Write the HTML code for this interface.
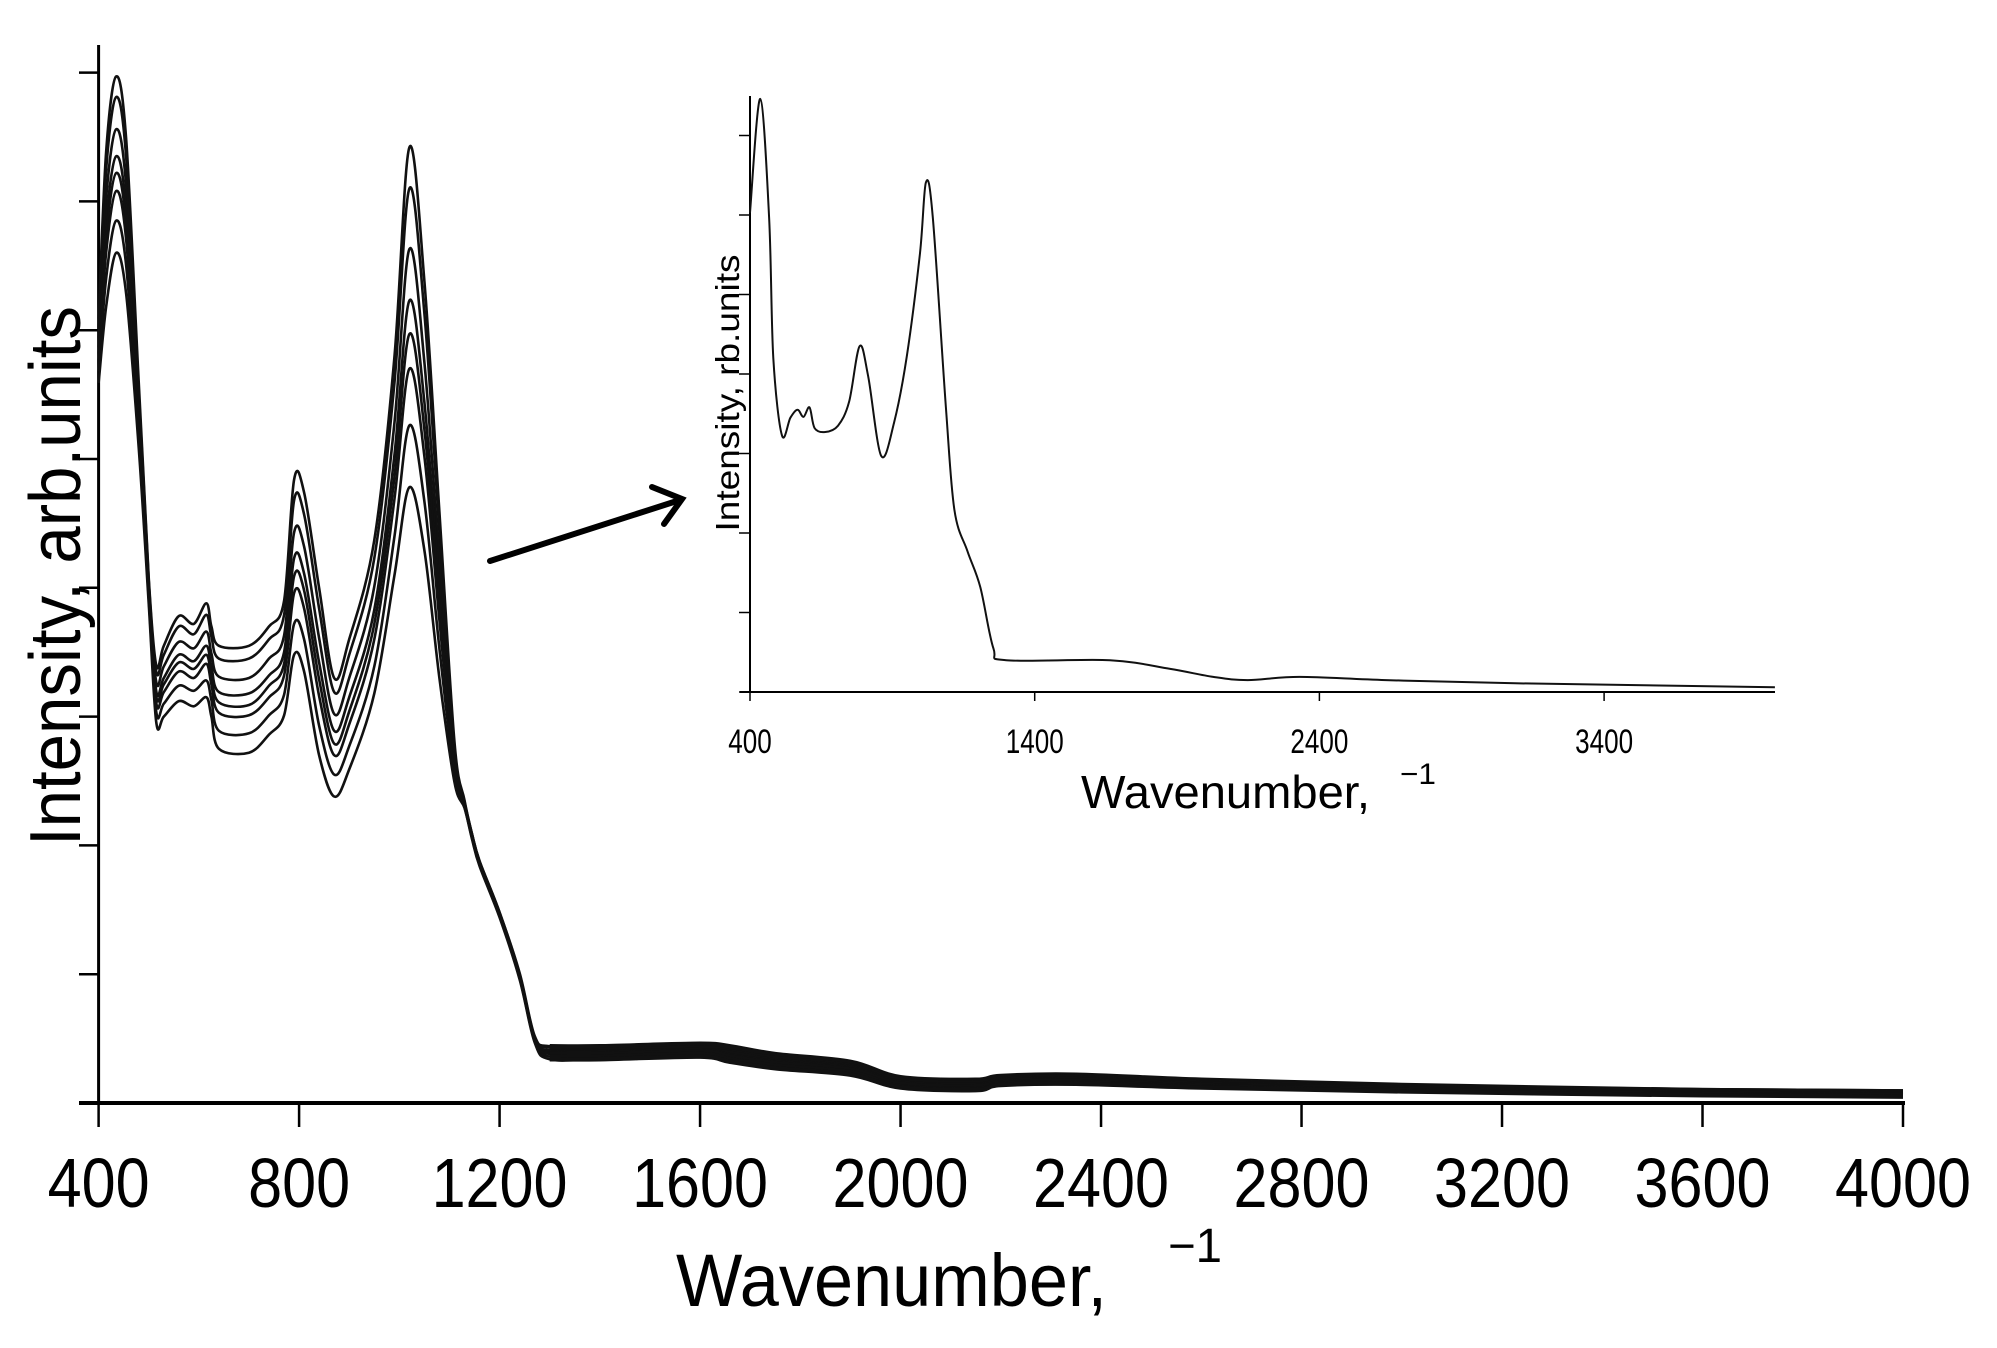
<!DOCTYPE html>
<html><head><meta charset="utf-8"><style>
html,body{margin:0;padding:0;background:#fff;}
svg{display:block;}
text{font-family:"Liberation Sans",Arial,sans-serif;fill:#000;}
</style></head><body>
<svg id="chart" width="1997" height="1348" viewBox="0 0 1997 1348" xmlns="http://www.w3.org/2000/svg">
<g id="main"></g>
<g id="inset"></g>
<g stroke="#000" stroke-width="6" fill="none" stroke-linecap="round">
<line x1="490" y1="561" x2="680" y2="500"/>
<polyline points="652,487 682,499 664,524"/>
</g>
</svg>
<script>
const wn = [400,415,435,455,480,500,515,530,560,590,615,625,640,700,740,770,790,810,840,870,900,950,990,1020,1050,1080,1110,1130,1145,1160,1200,1240,1270,1300,1400,1600,1660,1750,1900,2000,2150,2200,2350,2600,3000,3600,4000];
const s1 = [6.09,7.38,7.97,7.48,5.60,4.08,3.40,3.55,3.78,3.72,3.88,3.70,3.55,3.55,3.70,3.90,4.84,4.74,4.00,3.30,3.60,4.37,5.78,7.42,6.38,4.59,2.80,2.35,2.09,1.88,1.48,1.01,0.52,0.44,0.44,0.46,0.44,0.38,0.32,0.20,0.18,0.21,0.22,0.18,0.14,0.10,0.09];
const s2 = [6.03,7.24,7.81,7.34,5.54,4.06,3.35,3.48,3.70,3.64,3.79,3.62,3.45,3.45,3.60,3.79,4.68,4.57,3.84,3.19,3.48,4.23,5.58,7.10,6.13,4.44,2.76,2.34,2.09,1.88,1.48,1.00,0.51,0.43,0.43,0.45,0.43,0.37,0.31,0.19,0.17,0.20,0.21,0.17,0.13,0.10,0.09];
const s3 = [5.94,7.02,7.56,7.12,5.45,4.02,3.27,3.39,3.58,3.53,3.66,3.49,3.31,3.30,3.45,3.63,4.43,4.32,3.61,3.02,3.30,4.01,5.27,6.63,5.75,4.20,2.71,2.33,2.08,1.87,1.47,0.99,0.50,0.41,0.41,0.43,0.40,0.35,0.29,0.18,0.16,0.19,0.20,0.16,0.13,0.09,0.08];
const s4 = [5.87,6.84,7.35,6.94,5.37,3.99,3.20,3.30,3.48,3.43,3.55,3.39,3.19,3.18,3.32,3.50,4.23,4.11,3.42,2.89,3.15,3.83,5.02,6.23,5.44,4.01,2.66,2.32,2.07,1.86,1.46,0.99,0.50,0.40,0.40,0.41,0.39,0.33,0.28,0.16,0.14,0.18,0.19,0.15,0.12,0.08,0.07];
const s5 = [5.82,6.72,7.22,6.82,5.32,3.97,3.16,3.25,3.42,3.37,3.48,3.32,3.11,3.09,3.24,3.41,4.09,3.98,3.29,2.79,3.04,3.72,4.85,5.97,5.23,3.88,2.63,2.32,2.07,1.86,1.46,0.98,0.49,0.39,0.39,0.41,0.37,0.32,0.27,0.16,0.14,0.17,0.18,0.15,0.11,0.08,0.07];
const s6 = [5.77,6.60,7.08,6.70,5.27,3.95,3.11,3.19,3.35,3.30,3.41,3.25,3.03,3.01,3.15,3.32,3.96,3.84,3.16,2.70,2.94,3.60,4.68,5.70,5.02,3.75,2.60,2.31,2.06,1.85,1.45,0.98,0.49,0.38,0.38,0.40,0.36,0.31,0.26,0.15,0.13,0.16,0.17,0.14,0.11,0.07,0.06];
const s7 = [5.68,6.40,6.85,6.50,5.18,3.92,3.04,3.10,3.24,3.20,3.28,3.13,2.89,2.87,3.01,3.17,3.72,3.60,2.93,2.55,2.77,3.39,4.39,5.26,4.67,3.53,2.55,2.30,2.06,1.85,1.45,0.97,0.48,0.36,0.36,0.38,0.34,0.29,0.24,0.13,0.11,0.15,0.16,0.13,0.10,0.07,0.06];
const s8 = [5.59,6.18,6.60,6.28,5.09,3.88,2.96,3.00,3.12,3.08,3.15,3.00,2.75,2.72,2.86,3.01,3.48,3.35,2.70,2.38,2.59,3.18,4.09,4.78,4.29,3.30,2.49,2.29,2.05,1.84,1.44,0.96,0.47,0.34,0.34,0.36,0.32,0.27,0.22,0.12,0.10,0.14,0.15,0.12,0.09,0.06,0.05];
const xTicks = [400,800,1200,1600,2000,2400,2800,3200,3600,4000];
const yTicks = [0,1,2,3,4,5,6,7,8];
const insetWn = [400,436,467,482,512,542,567,588,609,627,664,709,748,785,815,861,906,951,997,1018,1042,1088,1118,1164,1209,1255,1300,1664,1876,2027,2148,2330,2633,3088,4000];
const insetVal = [6.03,7.46,5.97,4.20,3.23,3.45,3.55,3.46,3.58,3.32,3.27,3.35,3.65,4.35,3.97,2.97,3.39,4.23,5.52,6.41,5.97,3.58,2.29,1.77,1.32,0.55,0.40,0.40,0.29,0.19,0.15,0.19,0.15,0.11,0.06];
const insetXTicks = [400,1400,2400,3400];
const insetYTicks = [0,1,2,3,4,5,6,7];

const NS='http://www.w3.org/2000/svg';
function mk(tag, attrs, parent){const e=document.createElementNS(NS,tag);for(const k in attrs)e.setAttribute(k,attrs[k]);parent.appendChild(e);return e;}
function smoothPath(pts){let d='M'+pts[0][0].toFixed(1)+','+pts[0][1].toFixed(1);
 for(let i=0;i<pts.length-1;i++){const p0=pts[Math.max(0,i-1)],p1=pts[i],p2=pts[i+1],p3=pts[Math.min(pts.length-1,i+2)];
  const c1x=p1[0]+(p2[0]-p0[0])/6,c1y=p1[1]+(p2[1]-p0[1])/6,c2x=p2[0]-(p3[0]-p1[0])/6,c2y=p2[1]-(p3[1]-p1[1])/6;
  d+=' C'+c1x.toFixed(1)+','+c1y.toFixed(1)+' '+c2x.toFixed(1)+','+c2y.toFixed(1)+' '+p2[0].toFixed(1)+','+p2[1].toFixed(1);}
 return d;}

const main=document.getElementById('main');
const X=w=>98.6+(w-400)/3600*1804.4;
const Y=v=>1103-v*128.8;
let e;
e=mk('line',{x1:98.6,y1:45,x2:98.6,y2:1103,stroke:'#000','stroke-width':3},main);


e=mk('line',{x1:79,y1:1103,x2:1905,y2:1103,stroke:'#000','stroke-width':4},main);


yTicks.forEach(t=>{const l=mk('line',{x1:79,y1:Y(t),x2:98.6,y2:Y(t),stroke:'#000','stroke-width':2.5},main);
 
 });
xTicks.forEach(t=>{const l=mk('line',{x1:X(t),y1:1103,x2:X(t),y2:1127,stroke:'#000','stroke-width':2.5},main);
 
 
 const lab=String(t);
 const tx=mk('text',{x:X(t),y:1207,'text-anchor':'middle','font-size':70,textLength:lab.length*34,lengthAdjust:'spacingAndGlyphs'},main);
 tx.textContent=lab;
 
 });
[s1,s2,s3,s4,s5,s6,s7,s8].forEach((s,i)=>{
 const p=mk('path',{d:smoothPath(wn.map((w,j)=>[X(w),Y(s[j])])),fill:'none',stroke:'#111','stroke-width':2.6,'stroke-linejoin':'round'},main);
 
 
 const tailIdx=wn.indexOf(1300);
 const t=mk('path',{d:smoothPath(wn.slice(tailIdx).map((w,j)=>[X(w),Y(s[tailIdx+j])])),fill:'none',stroke:'#111','stroke-width':4.5,'stroke-linejoin':'round'},main);
 
 });
e=mk('text',{x:676,y:1306,'font-size':74,textLength:431,lengthAdjust:'spacingAndGlyphs'},main);
e.textContent='Wavenumber,';


e=mk('text',{x:1168,y:1262,'font-size':48,textLength:54,lengthAdjust:'spacingAndGlyphs'},main);
e.textContent='\u22121';


e=mk('text',{x:0,y:0,'font-size':72,'text-anchor':'middle',textLength:540,lengthAdjust:'spacingAndGlyphs',transform:'translate(80,576) rotate(-90)'},main);
e.textContent='Intensity, arb.units';



const ins=document.getElementById('inset');
const IX=w=>750+(w-400)*0.2847;
const IY=v=>692-v*79.5;
e=mk('line',{x1:750,y1:96,x2:750,y2:692,stroke:'#000','stroke-width':2},ins);


e=mk('line',{x1:740,y1:692,x2:1775,y2:692,stroke:'#000','stroke-width':2},ins);


insetYTicks.forEach(t=>{const l=mk('line',{x1:739,y1:IY(t),x2:750,y2:IY(t),stroke:'#000','stroke-width':1.5},ins);
 
 });
insetXTicks.forEach(t=>{const l=mk('line',{x1:IX(t),y1:692,x2:IX(t),y2:701,stroke:'#000','stroke-width':1.5},ins);
 
 
 const lab=String(t);
 const tx=mk('text',{x:IX(t),y:753,'text-anchor':'middle','font-size':34,textLength:lab.length*14.5,lengthAdjust:'spacingAndGlyphs'},ins);
 tx.textContent=lab;
 
 });
e=mk('path',{d:smoothPath(insetWn.map((w,j)=>[IX(w),IY(insetVal[j])])),fill:'none',stroke:'#111','stroke-width':2,'stroke-linejoin':'round'},ins);


e=mk('text',{x:1081,y:808,'font-size':46,textLength:289,lengthAdjust:'spacingAndGlyphs'},ins);
e.textContent='Wavenumber,';


e=mk('text',{x:1400,y:784,'font-size':30,textLength:36,lengthAdjust:'spacingAndGlyphs'},ins);
e.textContent='\u22121';


e=mk('text',{x:0,y:0,'font-size':33,'text-anchor':'middle',textLength:277,lengthAdjust:'spacingAndGlyphs',transform:'translate(739,393) rotate(-90)'},ins);
e.textContent='Intensity, rb.units';


</script>
</body></html>
